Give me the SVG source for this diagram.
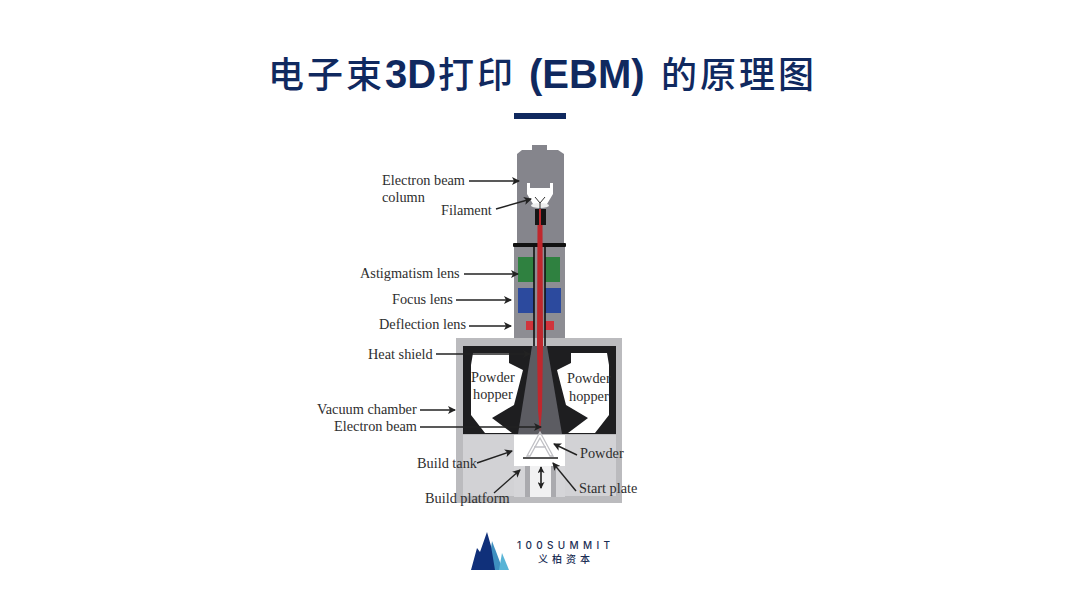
<svg xmlns="http://www.w3.org/2000/svg" width="1080" height="608" viewBox="0 0 1080 608">
<style>
.l{font-family:"Liberation Serif","Times New Roman",serif;font-size:14.3px;fill:#2e2e2e}
.c{stroke:#222;stroke-width:1.4;fill:none;marker-end:url(#a)}
.t{font-family:"Liberation Sans",sans-serif;font-weight:700;font-size:40px;fill:#10295f}
.cj{font-family:"Noto Sans CJK SC","Liberation Sans",sans-serif;font-weight:500;font-size:36px;letter-spacing:3px;fill:#10295f}
</style>
<defs>
<marker id="a" viewBox="0 0 8 8" refX="7" refY="4" markerWidth="8" markerHeight="8" orient="auto" markerUnits="userSpaceOnUse"><path d="M0 0L8 4L0 8L2 4Z" fill="#222"/></marker>
<marker id="b" viewBox="0 0 8 8" refX="7" refY="4" markerWidth="7" markerHeight="7" orient="auto-start-reverse" markerUnits="userSpaceOnUse"><path d="M0 0L8 4L0 8L2 4Z" fill="#222"/></marker>
</defs>
<rect width="1080" height="608" fill="#fff"/>
<g id="title">
<text y="88"><tspan class="cj" x="268">电子束</tspan><tspan class="t" x="385">3D</tspan><tspan class="cj" x="438">打印</tspan><tspan class="t" x="529">(EBM)</tspan><tspan class="cj" x="661">的原理图</tspan></text>
<rect x="514" y="113" width="52" height="6" fill="#10295f"/>
</g>
<g id="column">
<path d="M517 245V154L522 150H532V145H547V150H558L564 154V245Z" fill="#85858c"/>
<rect x="514" y="246" width="51" height="94" fill="#8d8d93"/>
<path d="M527 183H530V188H550V183H553V194L547 204H533L527 194Z" fill="#fff"/>
<ellipse cx="540" cy="205.500" rx="9" ry="2.500" fill="#eee"/>
<path d="M535 197L540 203L545 197M540 203V209" stroke="#333" stroke-width="1" fill="none"/>
<rect x="535" y="209" width="11" height="16" fill="#151515"/>
<rect x="518" y="257" width="42" height="25" fill="#2f8140"/>
<rect x="518" y="288" width="43" height="25" fill="#2c4a9e"/>
<rect x="526" y="321" width="28" height="9" fill="#d0343c"/>
<rect x="534" y="247" width="11" height="93" fill="#8d8d93"/>
<rect x="513" y="243" width="53" height="4" rx="1" fill="#111"/>
</g>
<g id="chamber">
<rect x="456" y="338" width="166" height="165" fill="#bbbbbe"/>
<rect x="463" y="435" width="153" height="61" fill="#d2d2d5"/>
<rect x="463" y="346" width="153" height="88" fill="#1e1e20"/>
<path id="hopper-left" d="M473 353H509V363L523 370L514 405L492 418L512 433H485L471 415V365Z" fill="#fff"/>
<path id="hopper-right" d="M607 353H571V363L557 370L566 405L588 418L568 433H595L609 415V365Z" fill="#fff"/>
<path id="cone" d="M532 346H547L562 434H518Z" fill="#5c5c62"/>
<rect x="514" y="435" width="51" height="31" fill="#fff"/>
<rect x="514" y="466" width="51" height="31" fill="#d5d5d8"/>
<rect x="525" y="466" width="5" height="31" fill="#aaaaae"/>
<rect x="551" y="466" width="5" height="31" fill="#aaaaae"/>
<rect x="530" y="466" width="21" height="31" fill="#f1f1f2"/>
<path d="M540 432L527 456H530L540 438L550 456H553ZM534 447H546" fill="none" stroke="#c0c0c5" stroke-width="1.300"/>
<rect x="523" y="457" width="35" height="2" fill="#555"/>
</g>
<g id="beam">
<path d="M534 246V346M545 246V346" stroke="#111" stroke-width="1.600"/>
<path d="M539 209H541V225H542.500L543 346L542 410L540 432L538 410L537 346L537.500 225H539Z" fill="#c0272d"/>
</g>
<g id="connectors">
<path class="c" d="M469 181H519"/>
<path class="c" d="M496 209L531 199"/>
<path class="c" d="M464 274H518"/>
<path class="c" d="M456 300H511"/>
<path class="c" d="M469 326H511"/>
<path class="c" d="M436 354H530"/>
<path class="c" d="M420 410H455"/>
<path class="c" d="M420 427H541"/>
<path class="c" d="M477 463L512 451"/>
<path class="c" d="M577 455L554 444"/>
<path class="c" d="M576 491L553 463"/>
<path class="c" d="M494 493L520 470"/>
<path d="M541 467V488" stroke="#111" stroke-width="1.500" marker-start="url(#b)" marker-end="url(#b)"/>
</g>
<g id="labels">
<text class="l" x="382" y="185">Electron beam</text>
<text class="l" x="382" y="202">column</text>
<text class="l" x="441" y="215">Filament</text>
<text class="l" x="360" y="278">Astigmatism lens</text>
<text class="l" x="392" y="304">Focus lens</text>
<text class="l" x="379" y="329">Deflection lens</text>
<text class="l" x="368" y="359">Heat shield</text>
<text class="l" x="471" y="382">Powder</text>
<text class="l" x="473" y="399">hopper</text>
<text class="l" x="567" y="383">Powder</text>
<text class="l" x="569" y="401">hopper</text>
<text class="l" x="317" y="414">Vacuum chamber</text>
<text class="l" x="334" y="431">Electron beam</text>
<text class="l" x="580" y="458">Powder</text>
<text class="l" x="417" y="468">Build tank</text>
<text class="l" x="579" y="493">Start plate</text>
<text class="l" x="425" y="503">Build platform</text>
</g>
<g id="logo">
<path d="M492 541L503 570H488Z" fill="#3f8fc0"/>
<path d="M502 553L509 570H499Z" fill="#58b4d6"/>
<path d="M471 570L477 548L480 552L487 532L491 546L495 570Z" fill="#10307a"/>
<text x="517" y="549" textLength="93" font-family="Inter,'Liberation Sans',sans-serif" font-size="10" font-weight="500" fill="#1a2e55">100SUMMIT</text>
<text x="538" y="563" textLength="52" font-family="'Noto Sans CJK SC',sans-serif" font-size="10" font-weight="500" fill="#1a2e55">义柏资本</text>
</g>
</svg>
